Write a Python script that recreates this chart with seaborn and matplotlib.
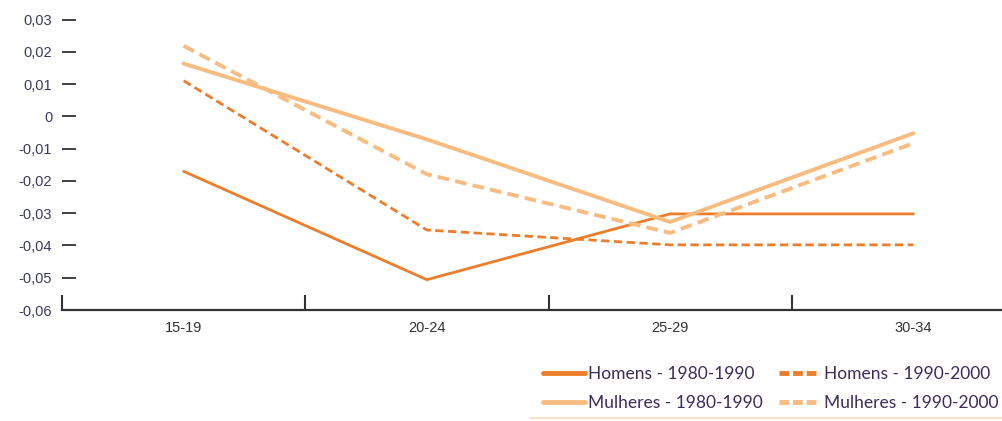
import pandas as pd
import matplotlib
matplotlib.use('Agg')
import matplotlib.pyplot as plt
import seaborn as sns
from matplotlib.lines import Line2D

# data
faixas = ['15-19', '20-24', '25-29', '30-34']
homens_80_90 = [-0.0170, -0.0506, -0.0302, -0.0302]
homens_90_00 = [0.0111, -0.0352, -0.0398, -0.0398]
mulheres_80_90 = [0.0164, -0.0071, -0.0327, -0.0052]
mulheres_90_00 = [0.0219, -0.0179, -0.0361, -0.0083]
series = ['Homens - 1980-1990', 'Homens - 1990-2000',
          'Mulheres - 1980-1990', 'Mulheres - 1990-2000']
y_ticks = [-0.06, -0.05, -0.04, -0.03, -0.02, -0.01, 0, 0.01, 0.02, 0.03]
y_labels = ['-0,06', '-0,05', '-0,04', '-0,03', '-0,02', '-0,01', '0', '0,01', '0,02', '0,03']

rows = []
for nome, vals in zip(series, [homens_80_90, homens_90_00, mulheres_80_90, mulheres_90_00]):
    for i, v in enumerate(vals):
        rows.append({'pos': i, 'faixa': faixas[i], 'valor': v, 'serie': nome})
df = pd.DataFrame(rows)

sns.set_style('white')
plt.rcParams['font.family'] = ['Liberation Sans', 'DejaVu Sans']

escuro = '#EE7D2B'
claro = '#F8BC80'
cores = {series[0]: escuro, series[1]: escuro, series[2]: claro, series[3]: claro}
tracos = {series[0]: '', series[1]: (3, 1.6), series[2]: '', series[3]: (3, 1.6)}
larguras = {series[0]: 2.0, series[1]: 2.0, series[2]: 2.8, series[3]: 2.8}

fig = plt.figure(figsize=(10.03, 4.21), dpi=100)
ax = fig.add_axes([62 / 1003, 111 / 421, 973 / 1003, 308 / 421])

for nome in series:
    sub = df[df['serie'] == nome]
    sns.lineplot(data=sub, x='pos', y='valor', color=cores[nome], ax=ax,
                 linewidth=larguras[nome], dashes=False, legend=False,
                 linestyle='-' if tracos[nome] == '' else (0, tracos[nome]))

ax.set_xlim(-0.5, 3.5)
ax.set_ylim(-0.06, 0.0355)
ax.set_xlabel('')
ax.set_ylabel('')

# x axis: boundary ticks, labels in the middle
ax.set_xticks([-0.5, 0.5, 1.5, 2.5])
ax.set_xticklabels([])
ax.set_xticks(range(len(faixas)), minor=True)
ax.set_xticklabels(faixas, minor=True, fontsize=10.5, color='#333333',
                   fontfamily=['Liberation Sans Narrow', 'Liberation Sans', 'DejaVu Sans'])
ax.tick_params(axis='x', which='major', direction='in', length=11, width=1.5,
               color='#333333', bottom=True)
ax.tick_params(axis='x', which='minor', length=0, pad=8)

ax.set_yticks(y_ticks)
ax.set_yticklabels(y_labels, fontsize=10.5, color='#3a3a60')
ax.tick_params(axis='y', direction='in', length=10, width=1.3, color='#333333',
               left=True, pad=7)

for s in ['top', 'right', 'left']:
    ax.spines[s].set_visible(False)
ax.spines['bottom'].set_color('#333333')
ax.spines['bottom'].set_linewidth(1.6)

# legend, filled row by row
handles = [Line2D([], [], color=cores[n], linewidth=3.5,
                  linestyle='-' if tracos[n] == '' else (0, (2, 0.8))) for n in series]
order = [0, 2, 1, 3]
leg = fig.legend([handles[i] for i in order], [series[i] for i in order],
                 loc='upper left', bbox_to_anchor=(543 / 1003, 1 - 366 / 421),
                 ncol=2, frameon=False, fontsize=12.5, handlelength=2.4,
                 handletextpad=0.2, columnspacing=0.9, labelspacing=0.75,
                 borderaxespad=0, borderpad=0)
for t in leg.get_texts():
    t.set_color('#3d2b5a')
    t.set_fontfamily(['Lato', 'DejaVu Sans'])

fig.add_artist(Line2D([530 / 1003, 1.0], [3 / 421, 3 / 421], color='#FBD9BC',
                      linewidth=1.2, transform=fig.transFigure))

fig.savefig('out.png', dpi=100)
